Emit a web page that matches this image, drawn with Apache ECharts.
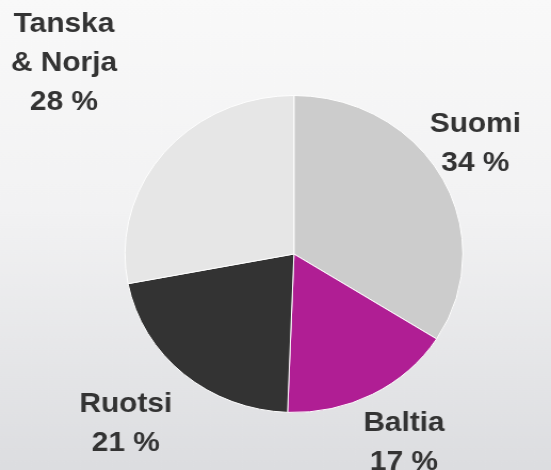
<!DOCTYPE html>
<html>
<head>
<meta charset="utf-8">
<script src="https://cdn.jsdelivr.net/npm/echarts@6/dist/echarts.min.js"></script>
<style>
html,body{margin:0;padding:0;overflow:hidden;width:551px;height:470px;}
#c{width:517px;height:470px;transform:scaleX(1.0658);transform-origin:0 0;}
</style>
</head>
<body>
<div id="c"></div>
<script>
var categories = ['Suomi', 'Baltia', 'Ruotsi', 'Tanska\n& Norja'];
var values = [34, 16.6, 21.4, 28];
var percentLabels = ['34 %', '17 %', '21 %', '28 %'];
var colors = ['#cccccc', '#b01e94', '#333333', '#e6e6e6'];

var labelSpots = [
  {x: 446, y: 144},
  {x: 379, y: 443},
  {x: 118, y: 424},
  {x: 60, y: 63}
];

var chart = echarts.init(document.getElementById('c'), null, {renderer: 'canvas'});
chart.setOption({
  animation: false,
  backgroundColor: {
    type: 'linear', x: 0, y: 0, x2: 0, y2: 1,
    colorStops: [
      {offset: 0, color: '#f9f9f9'},
      {offset: 0.45, color: '#f2f2f3'},
      {offset: 1, color: '#dcdde0'}
    ]
  },
  series: [{
    type: 'pie',
    center: [275.8, 254],
    radius: 158.5,
    startAngle: 90,
    clockwise: true,
    avoidLabelOverlap: false,
    itemStyle: {borderColor: '#ffffff', borderWidth: 1},
    labelLine: {show: false},
    label: {
      show: true,
      position: 'outside',
      color: '#333333',
      fontFamily: 'Liberation Sans, Arial, sans-serif',
      fontWeight: 'bold',
      fontSize: 28,
      lineHeight: 39,
      align: 'center',
      formatter: function (p) { return p.name + '\n' + percentLabels[p.dataIndex]; }
    },
    labelLayout: function (p) {
      var s = labelSpots[p.dataIndex];
      return {x: s.x, y: s.y, align: 'center', verticalAlign: 'middle', hideOverlap: false, moveOverlap: null};
    },
    data: categories.map(function (n, i) {
      return {name: n, value: values[i], itemStyle: {color: colors[i]}};
    })
  }]
});
</script>
</body>
</html>
